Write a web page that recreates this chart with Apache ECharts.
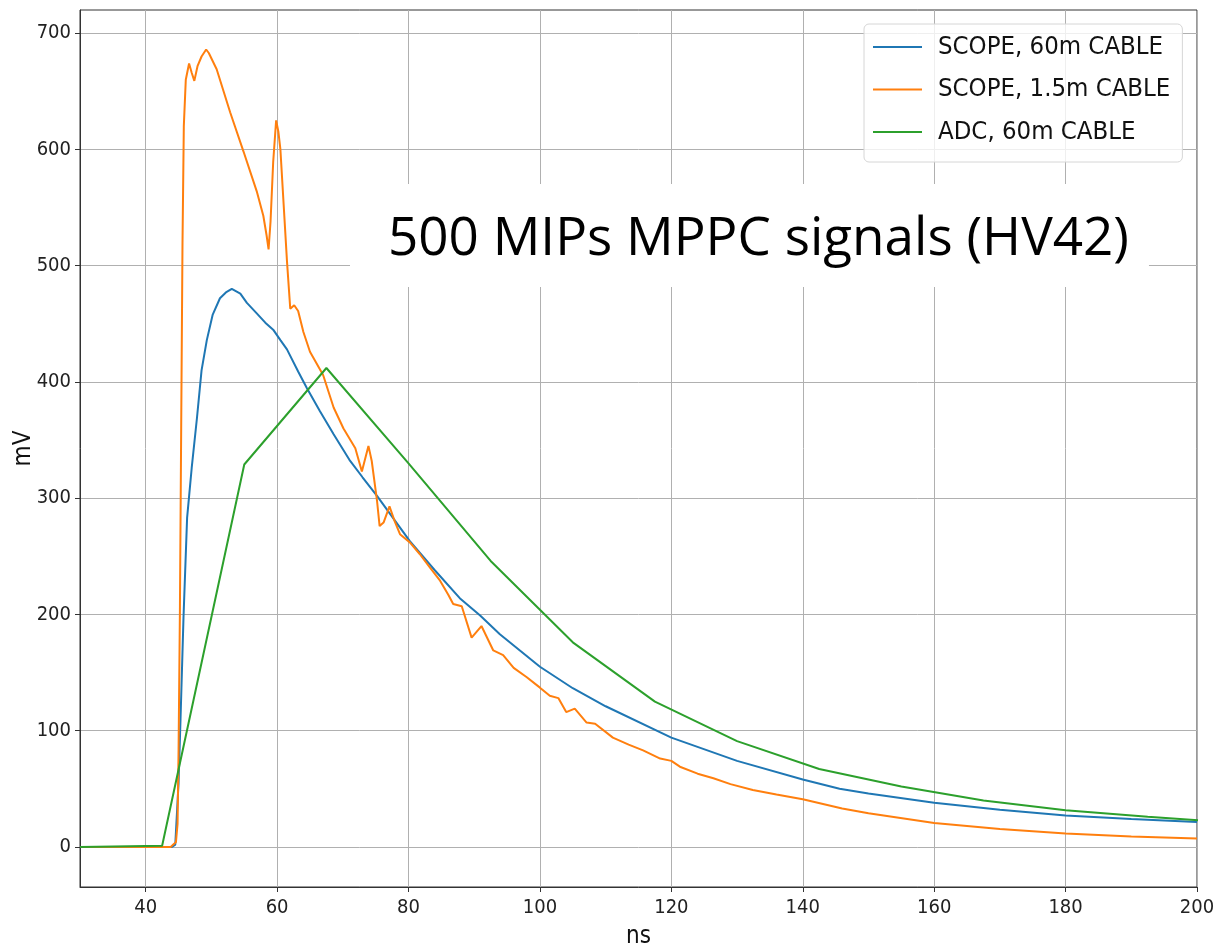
<!DOCTYPE html>
<html>
<head>
<meta charset="utf-8">
<script src="https://cdn.jsdelivr.net/npm/echarts@6/dist/echarts.min.js"></script>
<style>
  html, body { margin: 0; padding: 0; background: #fff; }
  #chart { width: 1227px; height: 948px; }
</style>
</head>
<body>
<div id="chart"></div>
<script>
// SCOPE, 60m CABLE
const scope60Ns = [30, 44.0, 44.5, 45.0, 45.3, 45.75, 46.3, 47.0, 47.8, 48.5, 49.3, 50.2, 51.3, 52.2, 53.1, 54.4, 55.4, 56.9, 58.2, 59.4, 60.5, 61.5, 63.2, 64.5, 66.5, 68.6, 71.0, 73.0, 75.2, 80.2, 84.0, 87.8, 90.9, 93.9, 100, 105, 110, 120, 130, 140, 145.6, 150, 160, 170, 180, 190, 200];
const scope60Mv = [0, 0, 2, 55, 110, 197, 283, 326, 369, 410, 436, 458, 472, 477, 480, 476, 468, 459, 451, 445, 436, 428, 409, 395, 375, 355, 333, 318, 302, 263, 238, 214, 199, 183, 155, 136.5, 121, 94, 74, 58, 50, 46, 38, 32, 27, 24, 21.5];

// SCOPE, 1.5m CABLE
const scope15Ns = [30, 43.8, 44.2, 44.6, 44.85, 45.0, 45.2, 45.4, 45.6, 45.8, 46.1, 46.6, 47.0, 47.4, 47.9, 48.5, 49.2, 49.6, 50.8, 52.85, 54.9, 56.9, 57.9, 58.4, 58.7, 59.0, 59.4, 59.85, 60.2, 60.5, 61.0, 61.5, 62.0, 62.6, 63.2, 64.0, 65.0, 67.0, 68.6, 70.1, 71.9, 72.9, 73.9, 74.4, 75.2, 75.6, 76.2, 77.1, 77.9, 78.7, 80.2, 81.7, 83.3, 84.8, 86.05, 86.8, 88.1, 89.6, 91.1, 92.9, 94.4, 96.0, 98, 100, 101.5, 102.8, 104, 105.3, 107.1, 108.4, 111.1, 113.5, 115.7, 118.3, 120, 121.3, 124, 126.4, 129, 132.4, 136, 140, 146, 150, 160, 170, 180, 190, 200];
const scope15Mv = [0, 0, 2, 4, 20, 83, 200, 360, 520, 620, 660, 674, 666, 659, 672, 680, 686, 683, 669, 632, 598, 564, 543, 526, 514, 538, 589, 625, 615, 600, 552, 504, 463, 466, 461, 443, 426, 406, 378, 360, 343, 323, 345, 332, 298, 276, 279, 293, 280, 269, 262, 252, 240, 229, 217, 209, 207, 180, 190, 169, 165, 154, 146, 137, 130, 128, 116, 119, 107, 106, 94, 88, 83, 76, 74, 69, 63, 59, 54, 49, 45, 41, 33, 29, 20.5, 15.5, 11.5, 9, 7.2];

// ADC, 60m CABLE (12.5 ns samples)
const adcNs = [30, 42.5, 55, 67.5, 80, 92.5, 105, 117.5, 130, 142.5, 155, 167.5, 180, 192.5, 205];
const adcMv = [0, 1, 329, 412, 330, 246, 176, 125, 91, 67, 52, 40, 31.5, 26, 21];

const seriesNames = ['SCOPE, 60m CABLE', 'SCOPE, 1.5m CABLE', 'ADC, 60m CABLE'];
const xTicks = [40, 60, 80, 100, 120, 140, 160, 180, 200];
const yTicks = [0, 100, 200, 300, 400, 500, 600, 700];
const chartTitle = '500 MIPs MPPC signals (HV42)';

const zip = (xs, ys) => xs.map((x, i) => [x, ys[i]]);

const tickFont = 'DejaVu Sans Condensed, DejaVu Sans, sans-serif';

const myChart = echarts.init(document.getElementById('chart'));

const lineSeries = (name, data, color) => ({
  name: name,
  type: 'line',
  data: data,
  showSymbol: false,
  symbol: 'none',
  smooth: false,
  lineStyle: { color: color, width: 2 },
  itemStyle: { color: color },
});

const option = {
  animation: false,
  backgroundColor: '#fff',
  color: ['#1f77b4', '#ff7f0e', '#2ca02c'],
  title: {
    text: chartTitle,
    left: 350,
    top: 184,
    padding: [24, 20, 16, 38],
    backgroundColor: '#fff',
    textStyle: {
      fontFamily: 'Open Sans, Noto Sans, sans-serif',
      fontWeight: 'normal',
      fontSize: 53,
      lineHeight: 63,
      color: '#000',
    },
  },
  grid: {
    left: 80,
    right: 30,
    top: 10,
    bottom: 61,
    show: true,
    borderColor: '#333',
    borderWidth: 1,
    containLabel: false,
    outerBoundsMode: 'none',
  },
  legend: {
    data: seriesNames,
    orient: 'vertical',
    left: 864,
    top: 24,
    icon: 'rect',
    itemWidth: 49,
    itemHeight: 2,
    itemGap: 8.5,
    padding: [6, 12, 13, 9],
    backgroundColor: 'rgba(255,255,255,0.8)',
    borderColor: '#d6d6d6',
    borderWidth: 1,
    borderRadius: 5,
    textStyle: {
      fontFamily: tickFont,
      fontSize: 25.5,
      lineHeight: 34,
      color: '#111',
      padding: [0, 0, 0, 11],
    },
  },
  xAxis: {
    type: 'value',
    min: 30,
    max: 200,
    name: 'ns',
    nameLocation: 'middle',
    nameGap: 38,
    nameMoveOverlap: false,
    nameTextStyle: { fontFamily: tickFont, fontSize: 24, color: '#111' },
    axisLine: { show: true, onZero: false, lineStyle: { color: '#333', width: 1 } },
    axisTick: { show: true, length: 5, customValues: xTicks, lineStyle: { color: '#333' } },
    axisLabel: { customValues: xTicks, margin: 11, fontFamily: tickFont, fontSize: 20, color: '#222' },
    splitLine: { show: true, customValues: xTicks, lineStyle: { color: '#b0b0b0', width: 1 } },
  },
  yAxis: {
    type: 'value',
    min: -34.5,
    max: 720,
    name: 'mV',
    nameLocation: 'middle',
    nameGap: 44,
    nameMoveOverlap: false,
    nameTextStyle: { fontFamily: tickFont, fontSize: 24, color: '#111' },
    axisLine: { show: true, onZero: false, lineStyle: { color: '#333', width: 1 } },
    axisTick: { show: true, length: 5, customValues: yTicks, lineStyle: { color: '#333' } },
    axisLabel: { customValues: yTicks, margin: 9, fontFamily: tickFont, fontSize: 20, color: '#222' },
    splitLine: { show: true, customValues: yTicks, lineStyle: { color: '#b0b0b0', width: 1 } },
  },
  series: [
    lineSeries(seriesNames[0], zip(scope60Ns, scope60Mv), '#1f77b4'),
    lineSeries(seriesNames[1], zip(scope15Ns, scope15Mv), '#ff7f0e'),
    lineSeries(seriesNames[2], zip(adcNs, adcMv), '#2ca02c'),
  ],
};

myChart.setOption(option);
</script>
</body>
</html>
